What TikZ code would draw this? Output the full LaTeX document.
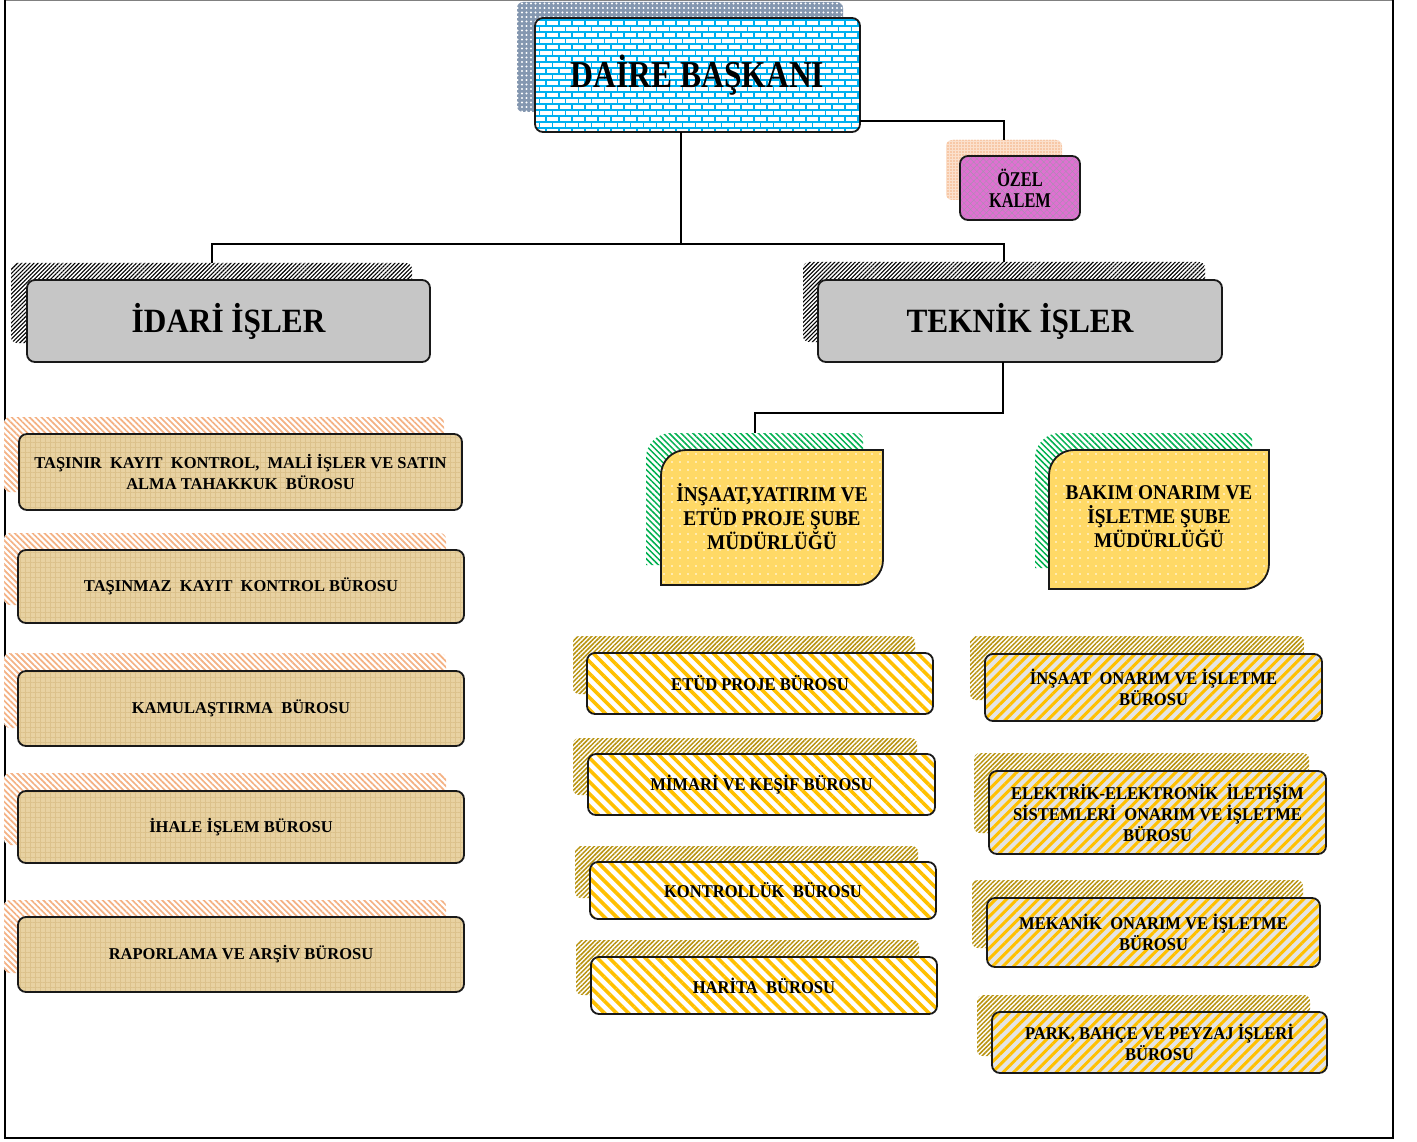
\documentclass[tikz,border=0pt]{standalone}
\usepackage{fontspec}
\setmainfont{Liberation Serif}
\newfontfamily\fA[FakeStretch=0.92]{Liberation Serif}
\newfontfamily\fD[FakeStretch=0.83]{Liberation Serif}
\newfontfamily\fO[FakeStretch=0.78]{Liberation Serif}
\usetikzlibrary{patterns,patterns.meta}

\pgfdeclarepatternformonly{mybricks}{\pgfpoint{-1.5pt}{-1.5pt}}{\pgfpoint{14.5pt}{13.5pt}}{\pgfpoint{13pt}{12pt}}{%
  \pgfsetlinewidth{1.6pt}%
  \pgfpathmoveto{\pgfpoint{-1pt}{0pt}}\pgfpathlineto{\pgfpoint{14pt}{0pt}}%
  \pgfpathmoveto{\pgfpoint{-1pt}{6pt}}\pgfpathlineto{\pgfpoint{14pt}{6pt}}%
  \pgfpathmoveto{\pgfpoint{0pt}{0pt}}\pgfpathlineto{\pgfpoint{0pt}{6pt}}%
  \pgfpathmoveto{\pgfpoint{6.5pt}{6pt}}\pgfpathlineto{\pgfpoint{6.5pt}{12pt}}%
  \pgfusepath{stroke}}

\definecolor{cyanb}{HTML}{00B0F0}
\definecolor{shblue}{HTML}{8497B0}
\definecolor{peach}{HTML}{F4B183}
\definecolor{peachl}{HTML}{FBE0CC}
\definecolor{pinkk}{HTML}{E070D2}
\definecolor{pinkpat}{HTML}{A890B0}
\definecolor{grayb}{HTML}{C6C6C6}
\definecolor{tanb}{HTML}{E8D2A2}
\definecolor{tand}{HTML}{DCC28C}
\definecolor{yel}{HTML}{FFD966}
\definecolor{gold}{HTML}{FFC000}
\definecolor{olivey}{HTML}{B8920E}
\definecolor{grn}{HTML}{00B050}
\definecolor{lgray}{HTML}{E4E4E4}

\tikzset{
  conn/.style={line width=2pt, black},
  sz/.style 2 args={minimum width=#1pt, minimum height=#2pt},
  base/.style={inner sep=0pt, outer sep=0pt, align=center, text=black},
  box/.style={base, rounded corners=8pt, draw=black!90, line width=1.8pt},
  shbox/.style={base, rounded corners=6pt},
  dairesh/.style={shbox, fill=shblue, postaction={pattern={Dots[distance=4.5pt,radius=1.1pt]}, pattern color=white}},
  dairebox/.style={box, preaction={fill=white}, pattern=mybricks, pattern color=cyanb},
  ozelsh/.style={shbox, fill=peachl, postaction={pattern={Dots[distance=3pt,radius=0.9pt]}, pattern color=peach}},
  ozelbox/.style={box, preaction={fill=pinkk}, pattern={Hatch[angle=45,distance=4.5pt,line width=0.4pt]}, pattern color=pinkpat},
  blksh/.style={shbox, fill=white, postaction={pattern={Lines[angle=45,distance=2.9pt,line width=1.1pt]}, pattern color=black}},
  graybox/.style={box, fill=grayb},
  peachsh/.style={shbox, fill=white, postaction={pattern={Lines[angle=-45,distance=4.2pt,line width=1.7pt]}, pattern color=peach}},
  tanbox/.style={box, preaction={fill=tanb}, pattern={Hatch[angle=0,distance=5pt,line width=0.35pt]}, pattern color=tand},
  goldsh/.style={shbox, fill=white, postaction={pattern={Lines[angle=45,distance=3.2pt,line width=1.5pt]}, pattern color=olivey}},
  stripeA/.style={box, preaction={fill=white}, pattern={Lines[angle=-45,distance=8.5pt,line width=3.6pt]}, pattern color=gold},
  stripeB/.style={box, preaction={fill=lgray}, pattern={Lines[angle=45,distance=7.5pt,line width=3pt]}, pattern color=gold},
  grnsh/.style={fill=white, postaction={pattern={Lines[angle=-45,distance=4.2pt,line width=1.5pt]}, pattern color=grn}},
  subeshape/.style={draw=black!90, line width=1.8pt, preaction={fill=yel}, pattern={Dots[distance=8pt,radius=0.9pt]}, pattern color=white},
  fDaire/.style={font=\fD\bfseries\fontsize{38}{42}\selectfont},
  fOzel/.style={font=\fO\bfseries\fontsize{21}{21}\selectfont},
  fBig/.style={font=\fA\bfseries\fontsize{34}{38}\selectfont},
  fSube/.style={font=\fA\bfseries\fontsize{21}{24}\selectfont},
  fLeft/.style={font=\bfseries\fontsize{16.5}{21}\selectfont},
  fBuro/.style={font=\fA\bfseries\fontsize{18}{21}\selectfont},
}

\begin{document}
\begin{tikzpicture}[x=1pt,y=-1pt]
\useasboundingbox (0,0) rectangle (1417,1142);
\fill[white] (0,0) rectangle (1417,1142);

% frame
\draw[gray, line width=1.2pt] (5,0.6) -- (1393,0.6);
\draw[line width=2.2pt] (5,0) -- (5,1138) -- (1393,1138) -- (1393,0);

% Daire Baskani
\node[dairesh, sz={326}{110}] (dairesh) at (680,57) {};
\node[dairebox, sz={325}{114}, fDaire] (daire) at (697.5,75) {DAİRE BAŞKANI};

% Ozel Kalem
\node[ozelsh, sz={116}{60}] (ozelsh) at (1004,170) {};
\node[ozelbox, sz={120}{64}, fOzel] (ozel) at (1020,188) {ÖZEL\\KALEM};

% Idari / Teknik
\node[blksh, sz={401}{80}] (idarish) at (211.5,303) {};
\node[graybox, sz={403}{82}, fBig] (idari) at (228.5,321) {İDARİ İŞLER};
\node[blksh, sz={402}{80}] (teknish) at (1004,302) {};
\node[graybox, sz={404}{82}, fBig] (teknik) at (1020,321) {TEKNİK İŞLER};

% Sube mudurlukleri (shapes)
\path[grnsh] (671,433) -- (857,433) .. controls (860.3,433) and (863,435.7) .. (863,439) -- (863,565) -- (646,565) -- (646,458) .. controls (646,444.2) and (657.2,433) .. (671,433) -- cycle;
\path[subeshape] (686,450) -- (883,450) -- (883,560) .. controls (883,573.8) and (871.8,585) .. (858,585) -- (661,585) -- (661,475) .. controls (661,461.2) and (672.2,450) .. (686,450) -- cycle;
\path[grnsh] (1060,433) -- (1246,433) .. controls (1249.3,433) and (1252,435.7) .. (1252,439) -- (1252,568) -- (1035,568) -- (1035,458) .. controls (1035,444.2) and (1046.2,433) .. (1060,433) -- cycle;
\path[subeshape] (1074,450) -- (1269,450) -- (1269,564) .. controls (1269,577.8) and (1257.8,589) .. (1244,589) -- (1049,589) -- (1049,475) .. controls (1049,461.2) and (1060.2,450) .. (1074,450) -- cycle;
\node[base, sz={217}{132}] (insubesh) at (754.5,499) {};
\node[base, sz={222}{135}, fSube] (insube) at (772,516.5) {İNŞAAT,YATIRIM VE\\ETÜD PROJE ŞUBE\\MÜDÜRLÜĞÜ};
\node[base, sz={217}{135}] (bakimsh) at (1143.5,500.5) {};
\node[base, sz={220}{139}, fSube] (bakim) at (1159,517) {BAKIM ONARIM VE\\İŞLETME ŞUBE\\MÜDÜRLÜĞÜ};

% Left column
\node[peachsh, sz={440}{75}] (ash) at (224,454.5) {};
\node[tanbox, sz={443}{76}, fLeft] (a) at (240.5,472) {TAŞINIR\ \ KAYIT\ \ KONTROL,\ \ MALİ İŞLER VE SATIN\\ALMA TAHAKKUK\ \ BÜROSU};
\node[peachsh, sz={442}{72}] (bsh) at (225,569) {};
\node[tanbox, sz={446}{73}, fLeft] (b) at (241,586.5) {TAŞINMAZ\ \ KAYIT\ \ KONTROL BÜROSU};
\node[peachsh, sz={442}{75}] (csh) at (225,690.5) {};
\node[tanbox, sz={446}{75}, fLeft] (c) at (241,708.5) {KAMULAŞTIRMA\ \ BÜROSU};
\node[peachsh, sz={442}{72}] (dsh) at (225,809) {};
\node[tanbox, sz={446}{72}, fLeft] (d) at (241,827) {İHALE İŞLEM BÜROSU};
\node[peachsh, sz={442}{73}] (esh) at (225,936.5) {};
\node[tanbox, sz={446}{75}, fLeft] (e) at (241,954.5) {RAPORLAMA VE ARŞİV BÜROSU};

% Middle column
\node[goldsh, sz={342}{58}] (fsh) at (744,665) {};
\node[stripeA, sz={346}{61}, fBuro] (f) at (760,683.5) {ETÜD PROJE BÜROSU};
\node[goldsh, sz={344}{57}] (gsh) at (745,766.5) {};
\node[stripeA, sz={347}{61}, fBuro] (g) at (761.5,784.5) {MİMARİ VE KEŞİF BÜROSU};
\node[goldsh, sz={343}{52}] (hsh) at (746.5,872) {};
\node[stripeA, sz={346}{57}, fBuro] (h) at (763,890.5) {KONTROLLÜK\ \ BÜROSU};
\node[goldsh, sz={343}{55}] (ish) at (747.5,967.5) {};
\node[stripeA, sz={346}{57}, fBuro] (i) at (764,985.5) {HARİTA\ \ BÜROSU};

% Right column
\node[goldsh, sz={334}{64}] (jsh) at (1137,668) {};
\node[stripeB, sz={337}{67}, fBuro] (j) at (1153.5,687.5) {İNŞAAT\ \ ONARIM VE İŞLETME\\BÜROSU};
\node[goldsh, sz={335}{80}] (ksh) at (1141.5,793) {};
\node[stripeB, sz={337}{83}, fBuro] (k) at (1157.5,812.5) {ELEKTRİK-ELEKTRONİK\ \ İLETİŞİM\\SİSTEMLERİ\ \ ONARIM VE İŞLETME\\BÜROSU};
\node[goldsh, sz={331}{68}] (lsh) at (1137.5,914) {};
\node[stripeB, sz={333}{69}, fBuro] (l) at (1153.5,932.5) {MEKANİK\ \ ONARIM VE İŞLETME\\BÜROSU};
\node[goldsh, sz={333}{61}] (msh) at (1143.5,1025.5) {};
\node[stripeB, sz={335}{61}, fBuro] (m) at (1159.5,1042.5) {PARK, BAHÇE VE PEYZAJ İŞLERİ\\BÜROSU};

% connectors
\coordinate (j1) at (681,244);
\coordinate (j2) at (1003,413);
\draw[conn] ([yshift=11pt]daire.south east) -| (ozelsh.north);
\draw[conn] (daire.south -| j1) -- (j1);
\draw[conn] (idarish.north) |- (j1) -| (teknish.north);
\draw[conn] (teknik.south -| j2) -- (j2) -| (insubesh.north);
\end{tikzpicture}
\end{document}
